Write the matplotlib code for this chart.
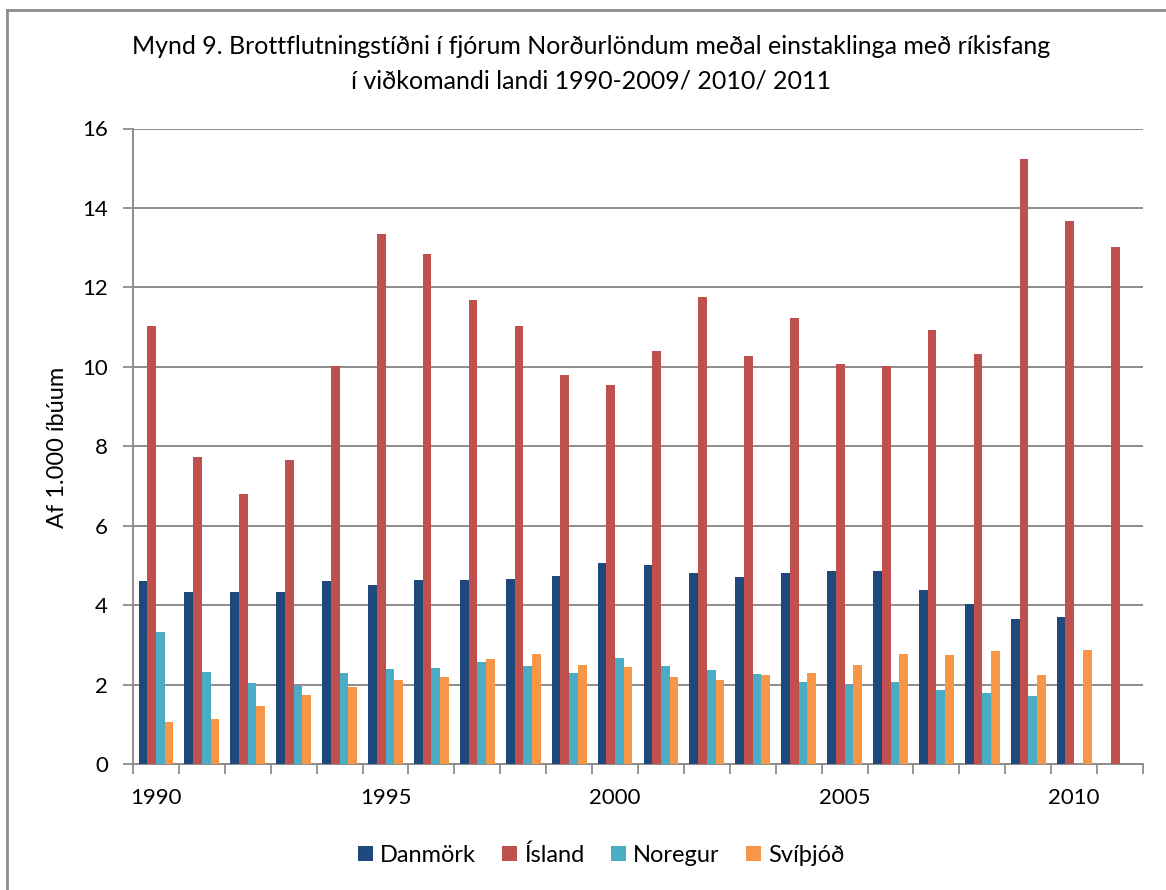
import numpy as np
import matplotlib.pyplot as plt
from matplotlib.lines import Line2D

plt.rcParams["font.family"] = ["Lato", "DejaVu Sans"]

years = list(range(1990, 2012))
danmork = [4.60, 4.32, 4.32, 4.32, 4.60, 4.51, 4.64, 4.62, 4.67, 4.74, 5.06,
           5.00, 4.81, 4.71, 4.82, 4.87, 4.87, 4.38, 4.02, 3.66, 3.71, np.nan]
island = [11.03, 7.74, 6.81, 7.65, 10.02, 13.35, 12.83, 11.68, 11.04, 9.79, 9.55,
          10.39, 11.77, 10.26, 11.22, 10.07, 10.02, 10.92, 10.33, 15.22, 13.66, 13.02]
noregur = [3.32, 2.32, 2.05, 1.97, 2.29, 2.38, 2.42, 2.56, 2.46, 2.29, 2.66,
           2.47, 2.36, 2.27, 2.06, 1.98, 2.06, 1.87, 1.78, 1.70, np.nan, np.nan]
svithjod = [1.05, 1.13, 1.46, 1.74, 1.94, 2.12, 2.20, 2.65, 2.76, 2.50, 2.43,
            2.20, 2.12, 2.23, 2.29, 2.48, 2.76, 2.75, 2.84, 2.25, 2.87, np.nan]

names = ["Danmörk", "Ísland", "Noregur", "Svíþjóð"]
colors = ["#1F497D", "#C0504D", "#4BACC6", "#F79646"]
series = [danmork, island, noregur, svithjod]

W, H = 1166, 890
fig = plt.figure(figsize=(W / 100, H / 100), dpi=100)
ax = fig.add_axes([133 / W, 1 - 764 / H, 1010 / W, (764 - 128.5) / H])

x = np.arange(len(years))
w = 0.19
for i, (vals, name, c) in enumerate(zip(series, names, colors)):
    ax.bar(x + (i - 1.5) * w, vals, width=w, color=c, label=name, zorder=3)

ax.set_xlim(-0.5, len(years) - 0.5)
ax.set_ylim(0, 16)
ax.set_yticks(range(0, 17, 2))
ax.grid(axis="y", color="#8c8c8c", linewidth=1.4, zorder=0)

major = [i for i, yr in enumerate(years) if yr % 5 == 0]
ax.set_xticks(major)
ax.set_xticklabels([str(years[i]) for i in major])
ax.set_xticks(np.arange(-0.5, len(years), 1), minor=True)
ax.tick_params(axis="x", which="major", length=0, labelsize=16, pad=17)
ax.tick_params(axis="x", which="minor", length=7, width=1.3, color="#8c8c8c")
ax.tick_params(axis="y", length=7, width=1.3, color="#8c8c8c", labelsize=16, pad=11)

for s in ["top", "right"]:
    ax.spines[s].set_visible(False)
for s in ["left", "bottom"]:
    ax.spines[s].set_color("#8c8c8c")
    ax.spines[s].set_linewidth(1.4)

fig.text(58 / W, 1 - 447 / H, "Af 1.000 íbúum", rotation=90, ha="center", va="center", fontsize=17)

fig.text(591 / W, 1 - 47 / H, "Mynd 9. Brottflutningstíðni í fjórum Norðurlöndum meðal einstaklinga með ríkisfang",
         ha="center", va="center", fontsize=18)
fig.text(591 / W, 1 - 81 / H, "í viðkomandi landi 1990-2009/ 2010/ 2011",
         ha="center", va="center", fontsize=18)

fig.legend(loc="center", bbox_to_anchor=(601 / W, 1 - 855 / H), ncol=4, frameon=False,
           fontsize=17, handlelength=0.65, handleheight=0.65, handletextpad=0.3, columnspacing=1.1)

# chart frame: only the top and left edges are visible
fig.add_artist(Line2D([7 / W, 1], [1 - 10 / H, 1 - 10 / H], transform=fig.transFigure,
                      color="#8c8c8c", linewidth=2))
fig.add_artist(Line2D([7 / W, 7 / W], [0, 1 - 10 / H], transform=fig.transFigure,
                      color="#8c8c8c", linewidth=2))

plt.savefig("out.png")
